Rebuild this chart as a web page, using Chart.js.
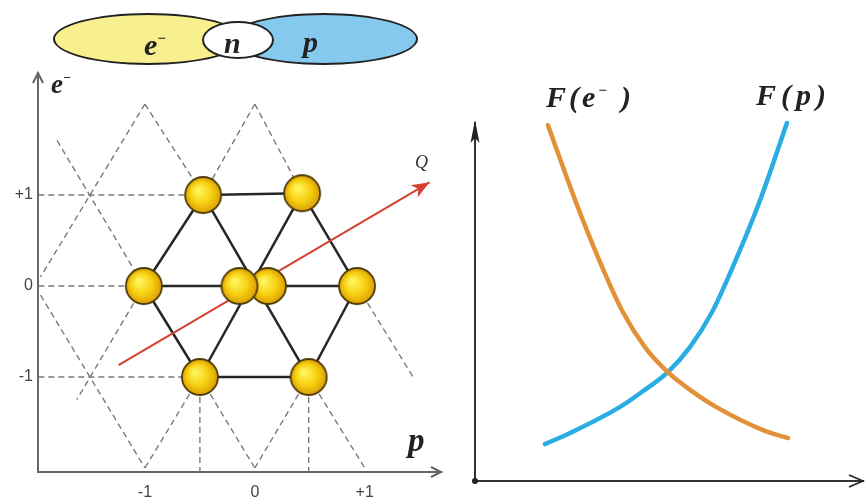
<!DOCTYPE html>
<html><head><meta charset="utf-8">
<script src="https://cdn.jsdelivr.net/npm/chart.js@4.4.1/dist/chart.umd.min.js"></script>
<style>
html,body{margin:0;padding:0;background:#fff;}
#wrap{position:relative;width:866px;height:504px;overflow:hidden;background:#fff;}
canvas{position:absolute;top:0;}
#leftC{left:0;}
#rightC{left:460px;}
.lbl{position:absolute;font-family:'Liberation Serif','DejaVu Serif',serif;font-weight:bold;font-style:italic;color:#222;white-space:nowrap;line-height:1;}
.ell{position:absolute;border:2px solid #222;border-radius:50%;box-sizing:border-box;}
.lbl sup{font-size:0.5em;vertical-align:0.8em;line-height:0;}
</style></head>
<body><div id="wrap">
<canvas id="leftC" width="460" height="504" style="width:460px;height:504px"></canvas>
<canvas id="rightC" width="406" height="504" style="width:406px;height:504px"></canvas>
<div class="ell" style="left:53px;top:13px;width:190px;height:52px;background:#f8f08e"></div>
<div class="ell" style="left:229px;top:13px;width:189px;height:52px;background:#86c9ee"></div>
<div class="ell" style="left:202px;top:21px;width:72px;height:38px;background:#fff"></div>
<div class="lbl" style="left:144px;top:30px;font-size:30px">e<sup>−</sup></div>
<div class="lbl" style="left:224px;top:28px;font-size:30px">n</div>
<div class="lbl" style="left:303px;top:27px;font-size:30px">p</div>
<div class="lbl" style="left:51px;top:71px;font-size:27px">e<sup>−</sup></div>
<div class="lbl" style="left:408px;top:424px;font-size:33px">p</div>
<div class="lbl" style="left:415px;top:153px;font-size:18px;font-weight:normal;color:#333">Q</div>
<div class="lbl" style="left:546px;top:82px;font-size:30px;letter-spacing:3px">F(e<sup>−</sup>&nbsp;)</div>
<div class="lbl" style="left:756px;top:80px;font-size:30px;letter-spacing:5px">F(p)</div>
</div>
<script>
// ---- data: left panel (weight diagram) ----
const axisTicks = [-1, 0, 1];
const axisTickLabels = ['-1', '0', '+1'];
const particleX = [-0.47, 0.43, -1.01, 0.12, -0.14, 0.93, -0.50, 0.49];
const particleY = [1.00, 1.02, 0.00, 0.00, 0.00, 0.00, -1.00, -1.00];
const hexEdges = [[0,1],[0,2],[2,6],[6,7],[7,5],[5,1],[2,5],[0,7],[1,6]];
const latticeSegments = [
  [-1.97, 1.00, -0.47, 1.00],
  [-1.97, 0.00, -1.01, 0.00],
  [-1.97,-1.00, -0.50,-1.00],
  [-1.00, 2.00, -0.47, 1.00],
  [-1.00, 2.00, -1.95, 0.10],
  [-1.80, 1.60, -1.01, 0.00],
  [ 0.00, 2.00, -0.47, 1.00],
  [ 0.00, 2.00,  0.43, 1.02],
  [-1.95,-0.10, -1.00,-2.00],
  [-1.01, 0.00, -1.62,-1.25],
  [-0.50,-1.00, -1.00,-2.00],
  [-0.50,-1.00, -0.50,-2.04],
  [-0.50,-1.00,  0.00,-2.00],
  [ 0.49,-1.00,  0.00,-2.00],
  [ 0.49,-1.00,  0.49,-2.04],
  [ 0.49,-1.00,  1.00,-2.00],
  [ 0.93, 0.00,  1.44,-1.00]
];
const chargeX = [-1.24, 1.59];
const chargeY = [-0.87, 1.14];
// ---- data: right panel ----
const fElectronX = [1.88, 2.58, 3.22, 3.81, 4.38, 4.97, 5.59, 6.21, 7.47, 8.07];
const fElectronY = [9.94, 7.85, 6.12, 4.72, 3.74, 3.04, 2.51, 2.07, 1.40, 1.20];
const fProtonX = [1.80, 2.45, 3.74, 4.33, 4.97, 5.54, 6.11, 6.70, 7.35, 8.04];
const fProtonY = [1.03, 1.34, 2.07, 2.51, 3.04, 3.74, 4.72, 6.12, 7.85, 10.0];

const pts = (xs, ys) => xs.map((v, i) => ({x: v, y: ys[i]}));

function makeBall(r){
  const c = document.createElement('canvas');
  c.width = c.height = 2*r + 4;
  const g = c.getContext('2d');
  const cx = r + 2;
  const grad = g.createRadialGradient(cx-5, cx-5, 2, cx, cx, r);
  grad.addColorStop(0, '#fff35a');
  grad.addColorStop(0.55, '#f7d010');
  grad.addColorStop(1, '#d99f06');
  g.fillStyle = grad;
  g.beginPath(); g.arc(cx, cx, r, 0, Math.PI*2); g.fill();
  g.lineWidth = 1.8; g.strokeStyle = '#4f3a05'; g.stroke();
  return c;
}
const ball = makeBall(18);

const leftDatasets = [];
leftDatasets.push({data: pts(particleX, particleY), showLine:false, pointStyle: ball, pointRadius:18, order:0});
leftDatasets.push({data: pts(chargeX, chargeY), showLine:true, borderColor:'#d5412f', borderWidth:2, pointRadius:0, order:1});
hexEdges.forEach(([a,b]) => leftDatasets.push({
  data:[{x:particleX[a],y:particleY[a]},{x:particleX[b],y:particleY[b]}],
  showLine:true, borderColor:'#262626', borderWidth:2.5, pointRadius:0, order:2}));
latticeSegments.forEach(s => leftDatasets.push({
  data:[{x:s[0],y:s[1]},{x:s[2],y:s[3]}],
  showLine:true, borderColor:'#7a7a7a', borderWidth:1.4, borderDash:[6,4], pointRadius:0, order:3}));

const leftDecor = {
  id:'leftDecor',
  afterDatasetsDraw(chart){
    const {ctx, chartArea:a, scales:{x, y}} = chart;
    ctx.save();
    ctx.strokeStyle = '#666'; ctx.lineWidth = 2;
    ctx.beginPath(); ctx.moveTo(a.left-5, a.top+10); ctx.lineTo(a.left, a.top); ctx.lineTo(a.left+5, a.top+10); ctx.stroke();
    ctx.beginPath(); ctx.moveTo(a.right-10, a.bottom-5); ctx.lineTo(a.right, a.bottom); ctx.lineTo(a.right-10, a.bottom+5); ctx.stroke();
    const x1 = x.getPixelForValue(chargeX[0]), y1 = y.getPixelForValue(chargeY[0]);
    const x2 = x.getPixelForValue(chargeX[1]), y2 = y.getPixelForValue(chargeY[1]);
    const ang = Math.atan2(y2-y1, x2-x1);
    ctx.translate(x2, y2); ctx.rotate(ang);
    ctx.fillStyle = '#d5412f';
    ctx.beginPath(); ctx.moveTo(0,0); ctx.lineTo(-18,-7); ctx.lineTo(-13,0); ctx.lineTo(-18,7); ctx.closePath(); ctx.fill();
    ctx.restore();
  }
};

const tickFont = {family:"'Liberation Sans', Arial, sans-serif", size:16};
new Chart(document.getElementById('leftC'), {
  type:'scatter',
  data:{datasets: leftDatasets},
  options:{
    responsive:false, animation:false, events:[],
    layout:{padding:{top:73, right:15, left:0, bottom:0}},
    plugins:{legend:{display:false}, tooltip:{enabled:false}},
    scales:{
      x:{type:'linear', min:-1.973, max:1.694,
        grid:{display:false, drawTicks:false},
        border:{display:true, color:'#666', width:2},
        afterBuildTicks: s => { s.ticks = axisTicks.map(v => ({value:v})); },
        afterFit: s => { s.height = 32; },
        ticks:{autoSkip:false, maxRotation:0, padding:11, color:'#444', font:tickFont,
          callback: v => axisTickLabels[axisTicks.indexOf(v)]}},
      y:{type:'linear', min:-2.044, max:2.341,
        grid:{display:false, drawTicks:false},
        border:{display:true, color:'#666', width:2},
        afterBuildTicks: s => { s.ticks = axisTicks.map(v => ({value:v})); },
        afterFit: s => { s.width = 38; },
        ticks:{autoSkip:false, padding:5, color:'#444', font:tickFont,
          callback: v => axisTickLabels[axisTicks.indexOf(v)]}}
    }
  },
  plugins:[leftDecor]
});

const rightDecor = {
  id:'rightDecor',
  afterDatasetsDraw(chart){
    const {ctx, chartArea:a} = chart;
    ctx.save();
    ctx.fillStyle = '#222'; ctx.strokeStyle = '#222'; ctx.lineWidth = 1.6;
    ctx.beginPath(); ctx.moveTo(a.left, a.top-3); ctx.lineTo(a.left-4.5, a.top+20); ctx.lineTo(a.left, a.top+15); ctx.lineTo(a.left+4.5, a.top+20); ctx.closePath(); ctx.fill();
    ctx.beginPath(); ctx.moveTo(a.right-14, a.bottom-6); ctx.lineTo(a.right, a.bottom); ctx.lineTo(a.right-14, a.bottom+6); ctx.stroke();
    ctx.beginPath(); ctx.arc(a.left, a.bottom, 3, 0, Math.PI*2); ctx.fill();
    ctx.restore();
  }
};

new Chart(document.getElementById('rightC'), {
  type:'line',
  data:{datasets:[
    {label:'F(e⁻)', data: pts(fElectronX, fElectronY), borderColor:'#e39138', borderWidth:4.5, pointRadius:0, cubicInterpolationMode:'monotone', borderCapStyle:'round', clip:false},
    {label:'F(p)', data: pts(fProtonX, fProtonY), borderColor:'#29ade2', borderWidth:4.5, pointRadius:0, cubicInterpolationMode:'monotone', borderCapStyle:'round', clip:false}
  ]},
  options:{
    responsive:false, animation:false, events:[],
    layout:{padding:{top:123, right:3, left:0, bottom:0}},
    plugins:{legend:{display:false}, tooltip:{enabled:false}},
    scales:{
      x:{type:'linear', min:0, max:10, grid:{display:false, drawTicks:false},
        border:{display:true, color:'#333', width:2}, ticks:{display:false},
        afterFit: s => { s.height = 23; }},
      y:{type:'linear', min:0, max:10, grid:{display:false, drawTicks:false},
        border:{display:true, color:'#333', width:2}, ticks:{display:false},
        afterFit: s => { s.width = 15; }}
    }
  },
  plugins:[rightDecor]
});
</script>
</body></html>
